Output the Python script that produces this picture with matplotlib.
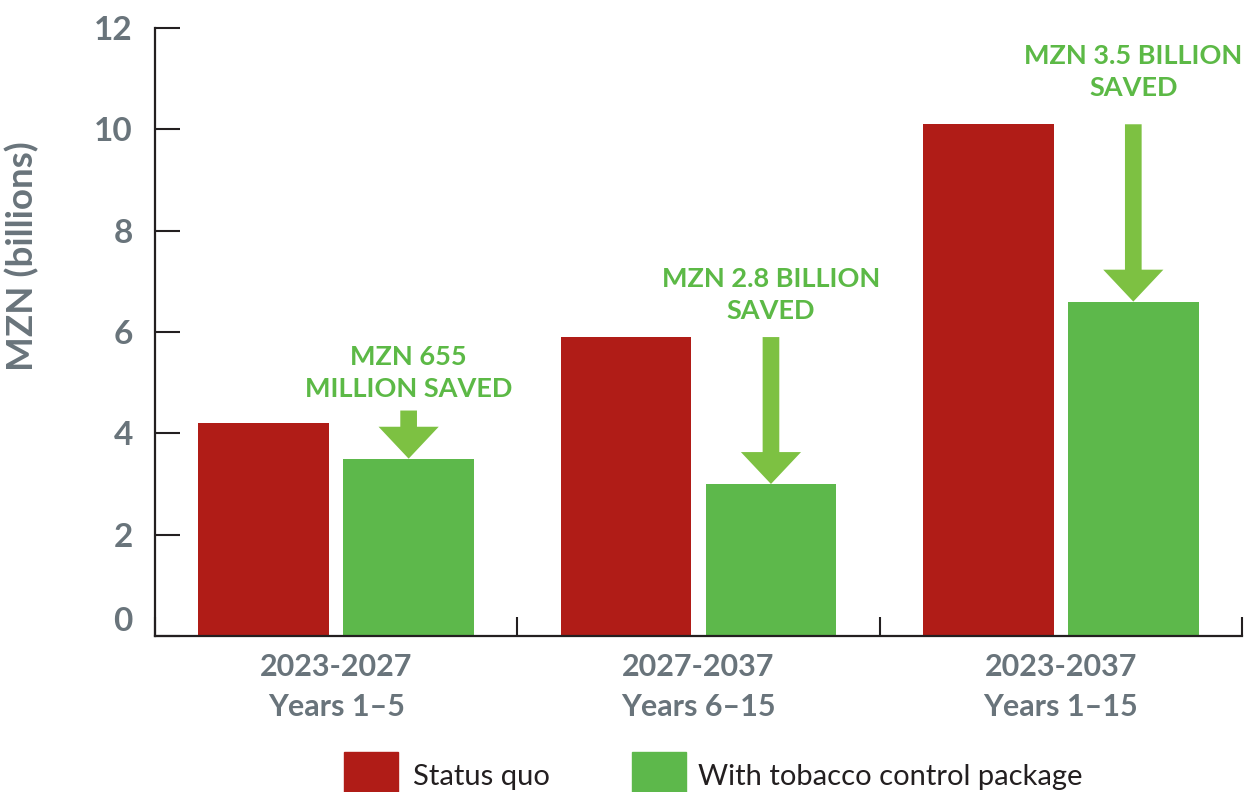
import matplotlib
matplotlib.use("Agg")
import matplotlib.pyplot as plt
import matplotlib.transforms as mtransforms
from matplotlib.patches import Rectangle
import numpy as np

# ---- data (MZN billions) ----
periods = ["2023-2027", "2027-2037", "2023-2037"]
period_years = ["Years 1\u20135", "Years 6\u201315", "Years 1\u201315"]
status_quo = [4.2, 5.9, 10.1]
with_package = [3.5, 3.0, 6.6]
savings_labels = ["MZN 655\nMILLION SAVED", "MZN 2.8 BILLION\nSAVED", "MZN 3.5 BILLION\nSAVED"]
arrow_tops = [4.45, 5.9, 10.1]
label_heights = [5.2, 6.73, 11.13]
y_ticks = [0, 2, 4, 6, 8, 10, 12]
series_names = ["Status quo", "With tobacco control package"]

# ---- style ----
RED = "#b01c17"
GREEN = "#5db84b"
ARROW_GREEN = "#7dc142"
TEXT_GREEN = "#5cb946"
GRAY = "#69747b"
DARK = "#231f20"
FONT = "Lato"
HEAVY = "bold"

plt.rcParams["font.family"] = [FONT, "DejaVu Sans"]

fig = plt.figure(figsize=(12.47, 7.92), dpi=100)
ax = fig.add_axes([155 / 1247, 156 / 792, 1087 / 1247, 608 / 792])

x = np.arange(len(periods))
bar_w = 0.36
off = 0.2
ax.bar(x - off, status_quo, width=bar_w, color=RED, zorder=2)
ax.bar(x + off, with_package, width=bar_w, color=GREEN, zorder=2)

ax.set_xlim(-0.5, len(periods) - 0.5)
ax.set_ylim(0, 12)

# spines
for s in ("top", "right"):
    ax.spines[s].set_visible(False)
for s in ("left", "bottom"):
    ax.spines[s].set_color(DARK)
    ax.spines[s].set_linewidth(1.6)

# y axis
ax.set_yticks(y_ticks)
ax.set_yticklabels([str(t) for t in y_ticks])
ax.tick_params(axis="y", direction="in", length=18, width=1.5, color=DARK,
               labelsize=24, labelcolor=GRAY, pad=16)
for lab in ax.get_yticklabels():
    lab.set_fontweight(HEAVY)
# lift the zero label off the x axis
zero_lab = ax.get_yticklabels()[0]
zero_lab.set_transform(zero_lab.get_transform() +
                       mtransforms.ScaledTranslation(0, 12 / 72, fig.dpi_scale_trans))

ax.set_ylabel("MZN (billions)", fontsize=26.5, fontweight=HEAVY, color=GRAY, va="center")
ax.yaxis.set_label_coords(-0.122, 0.625)

# x axis: boundary ticks (inward) and category labels at group centres
ax.set_xticks(np.arange(-0.5, len(periods), 1.0))
ax.set_xticklabels([])
ax.tick_params(axis="x", which="major", direction="in", length=14, width=1.5, color=DARK)
ax.set_xticks(x, minor=True)
ax.set_xticklabels([f"{p}\n{y}" for p, y in zip(periods, period_years)], minor=True)
ax.tick_params(axis="x", which="minor", length=0, pad=12, labelsize=22, labelcolor=GRAY)
for lab in ax.get_xticklabels(minor=True):
    lab.set_fontweight(HEAVY)
    lab.set_linespacing(1.55)

# savings arrows and labels
for i in range(len(periods)):
    xc = x[i] + off
    top = arrow_tops[i]
    tip = with_package[i]
    ax.arrow(xc, top, 0, tip - top, width=0.046, head_width=0.166,
             head_length=0.63, length_includes_head=True,
             color=ARROW_GREEN, lw=0, zorder=3)
    ax.text(xc, label_heights[i], savings_labels[i], ha="center", va="center",
            fontsize=19.5, fontweight=HEAVY, color=TEXT_GREEN, linespacing=1.4)

# legend swatches along the bottom edge
legend_items = [(344, RED, 413, series_names[0]), (632, GREEN, 698, series_names[1])]
for px, col, tx, name in legend_items:
    fig.patches.append(Rectangle((px / 1247, -14 / 792), 54 / 1247, 54 / 792,
                                 transform=fig.transFigure, color=col, figure=fig))
    fig.text(tx / 1247, (792 - 777) / 792, name, ha="left", va="center",
             fontsize=21, color=DARK)

fig.savefig("out.png", dpi=100)
